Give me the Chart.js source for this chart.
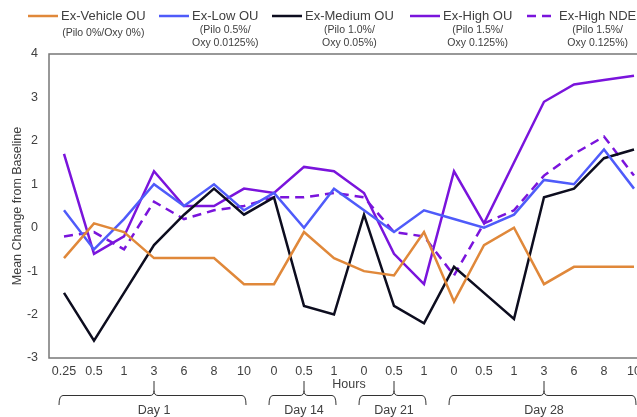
<!DOCTYPE html>
<html>
<head>
<meta charset="utf-8">
<script src="https://cdn.jsdelivr.net/npm/chart.js@4"></script>
<style>
  html, body { margin: 0; padding: 0; overflow: hidden; background: #fff; width: 637px; height: 417px; }
  canvas { display: block; }
</style>
</head>
<body>
<canvas id="c" width="652" height="417"></canvas>
<script>
// Sampling times (hours post-dose) on each visit day
const hours = ['0.25', '0.5', '1', '3', '6', '8', '10', '0', '0.5', '1', '0', '0.5', '1', '0', '0.5', '1', '3', '6', '8', '10'];
// Visit days and how many time points each one covers
const dayLabels = ['Day 1', 'Day 14', 'Day 21', 'Day 28'];
const dayCounts = [7, 3, 3, 7];

// Mean change from baseline per treatment arm
const vehicleOU = [-0.7, 0.1, -0.1, -0.7, -0.7, -0.7, -1.3, -1.3, -0.1, -0.7, -1.0, -1.1, -0.1, -1.7, -0.4, 0.0, -1.3, -0.9, -0.9, -0.9];
const lowOU     = [0.4, -0.5, 0.2, 1.0, 0.5, 1.0, 0.4, 0.8, 0.0, 0.9, 0.4, -0.1, 0.4, 0.2, 0.0, 0.3, 1.1, 1.0, 1.8, 0.9];
const mediumOU  = [-1.5, -2.6, -1.5, -0.4, 0.3, 0.9, 0.3, 0.7, -1.8, -2.0, 0.3, -1.8, -2.2, -0.9, -1.5, -2.1, 0.7, 0.9, 1.6, 1.8];
const highOU    = [1.7, -0.6, -0.2, 1.3, 0.5, 0.5, 0.9, 0.8, 1.4, 1.3, 0.8, -0.6, -1.3, 1.3, 0.1, 1.5, 2.9, 3.3, 3.4, 3.5];
const highNDE   = [-0.2, -0.1, -0.5, 0.6, 0.2, 0.4, 0.5, 0.7, 0.7, 0.8, 0.7, -0.1, -0.2, -1.1, 0.1, 0.4, 1.2, 1.7, 2.1, 1.2];

const seriesNames = ['Ex-Vehicle OU', 'Ex-Low OU', 'Ex-Medium OU', 'Ex-High OU', 'Ex-High NDE'];
const seriesNotes = [
  ['(Pilo 0%/Oxy 0%)'],
  ['(Pilo 0.5%/', 'Oxy 0.0125%)'],
  ['(Pilo 1.0%/', 'Oxy 0.05%)'],
  ['(Pilo 1.5%/', 'Oxy 0.125%)'],
  ['(Pilo 1.5%/', 'Oxy 0.125%)']
];

const FONT = "'Liberation Sans', Arial, sans-serif";
const TEXT = '#404040';
const colors = ['#E0883A', '#4F5BFA', '#0D0D1F', '#7A14DC', '#7A14DC'];
const dashes = [[], [], [], [], [9, 6]];
const values = [vehicleOU, lowOU, mediumOU, highOU, highNDE];

// Frame around the plotting area
const framePlugin = {
  id: 'frame',
  afterDatasetsDraw(chart) {
    const { ctx, chartArea: a } = chart;
    ctx.save();
    ctx.strokeStyle = '#777';
    ctx.lineWidth = 1.5;
    ctx.strokeRect(a.left, a.top, a.right - a.left, a.bottom - a.top);
    ctx.restore();
  }
};

// Legend with treatment concentration notes under each name
const legendPlugin = {
  id: 'noteLegend',
  afterDraw(chart) {
    const { ctx } = chart;
    const starts = [28, 159, 272, 410, 527];
    ctx.save();
    chart.data.datasets.forEach((ds, i) => {
      const x0 = starts[i];
      ctx.strokeStyle = ds.borderColor;
      ctx.lineWidth = 2.5;
      ctx.setLineDash(ds.borderDash || []);
      ctx.beginPath();
      ctx.moveTo(x0, 16);
      ctx.lineTo(x0 + 30, 16);
      ctx.stroke();
      ctx.setLineDash([]);
      ctx.fillStyle = TEXT;
      ctx.textBaseline = 'middle';
      ctx.textAlign = 'left';
      ctx.font = '13px ' + FONT;
      const tx = x0 + (i === 4 ? 32 : 33);
      ctx.fillText(ds.label, tx, 16);
      const w = ctx.measureText(ds.label).width;
      const cx = tx + w / 2;
      ctx.font = '10.5px ' + FONT;
      ctx.textAlign = 'center';
      const notes = seriesNotes[i];
      if (notes.length === 1) {
        ctx.fillText(notes[0], cx, 33);
      } else {
        ctx.fillText(notes[0], cx, 30);
        ctx.fillText(notes[1], cx, 43);
      }
    });
    ctx.restore();
  }
};

// Curly brackets grouping the time points by visit day
const dayPlugin = {
  id: 'dayBrackets',
  afterDraw(chart) {
    const { ctx } = chart;
    const xs = chart.scales.x;
    let first = 0;
    ctx.save();
    ctx.strokeStyle = '#333';
    ctx.lineWidth = 1;
    ctx.fillStyle = TEXT;
    ctx.font = '12.5px ' + FONT;
    ctx.textAlign = 'center';
    ctx.textBaseline = 'middle';
    dayLabels.forEach((label, g) => {
      const last = first + dayCounts[g] - 1;
      const x0 = xs.getPixelForTick(first) - 5;
      const x1 = xs.getPixelForTick(last) + 2;
      const xc = xs.getPixelForTick((first + last) / 2 | 0) + (dayCounts[g] % 2 ? 0 : 15);
      const yb = 395.5;
      ctx.beginPath();
      ctx.moveTo(x0, 405);
      ctx.quadraticCurveTo(x0, yb, x0 + 4, yb);
      ctx.lineTo(xc - 4, yb);
      ctx.quadraticCurveTo(xc, yb, xc, yb - 5);
      ctx.lineTo(xc, 381);
      ctx.moveTo(xc, yb - 5);
      ctx.quadraticCurveTo(xc, yb, xc + 4, yb);
      ctx.lineTo(x1 - 4, yb);
      ctx.quadraticCurveTo(x1, yb, x1, 405);
      ctx.stroke();
      ctx.fillText(label, xc, 410.5);
      first = last + 1;
    });
    ctx.restore();
  }
};

new Chart(document.getElementById('c'), {
  type: 'line',
  data: {
    labels: hours,
    datasets: values.map((v, i) => ({
      label: seriesNames[i],
      data: v,
      borderColor: colors[i],
      backgroundColor: colors[i],
      borderWidth: 2.5,
      borderDash: dashes[i],
      pointRadius: 0,
      tension: 0,
      fill: false
    }))
  },
  options: {
    responsive: false,
    animation: false,
    layout: { padding: { top: 54, right: 3, left: 0, bottom: 0 } },
    plugins: { legend: { display: false }, tooltip: { enabled: false } },
    scales: {
      x: {
        type: 'category',
        offset: true,
        grid: { display: false, drawTicks: false },
        border: { display: false },
        ticks: { color: TEXT, font: { family: FONT, size: 12.5 }, padding: 6, autoSkip: false, maxRotation: 0 },
        title: { display: true, text: 'Hours', color: TEXT, font: { family: FONT, size: 12.5 }, padding: { top: 0, bottom: 24.5 } },
        afterFit(scale) { scale.height = 59; }
      },
      y: {
        min: -3,
        max: 4,
        grid: { display: false, drawTicks: false },
        border: { display: false },
        ticks: { stepSize: 1, color: TEXT, font: { family: FONT, size: 12.5 }, padding: 11 },
        title: { display: true, text: 'Mean Change from Baseline', color: TEXT, font: { family: FONT, size: 12.5 }, padding: { top: 10, bottom: 0 } },
        afterFit(scale) { scale.width = 49; }
      }
    }
  },
  plugins: [framePlugin, legendPlugin, dayPlugin]
});
</script>
</body>
</html>
